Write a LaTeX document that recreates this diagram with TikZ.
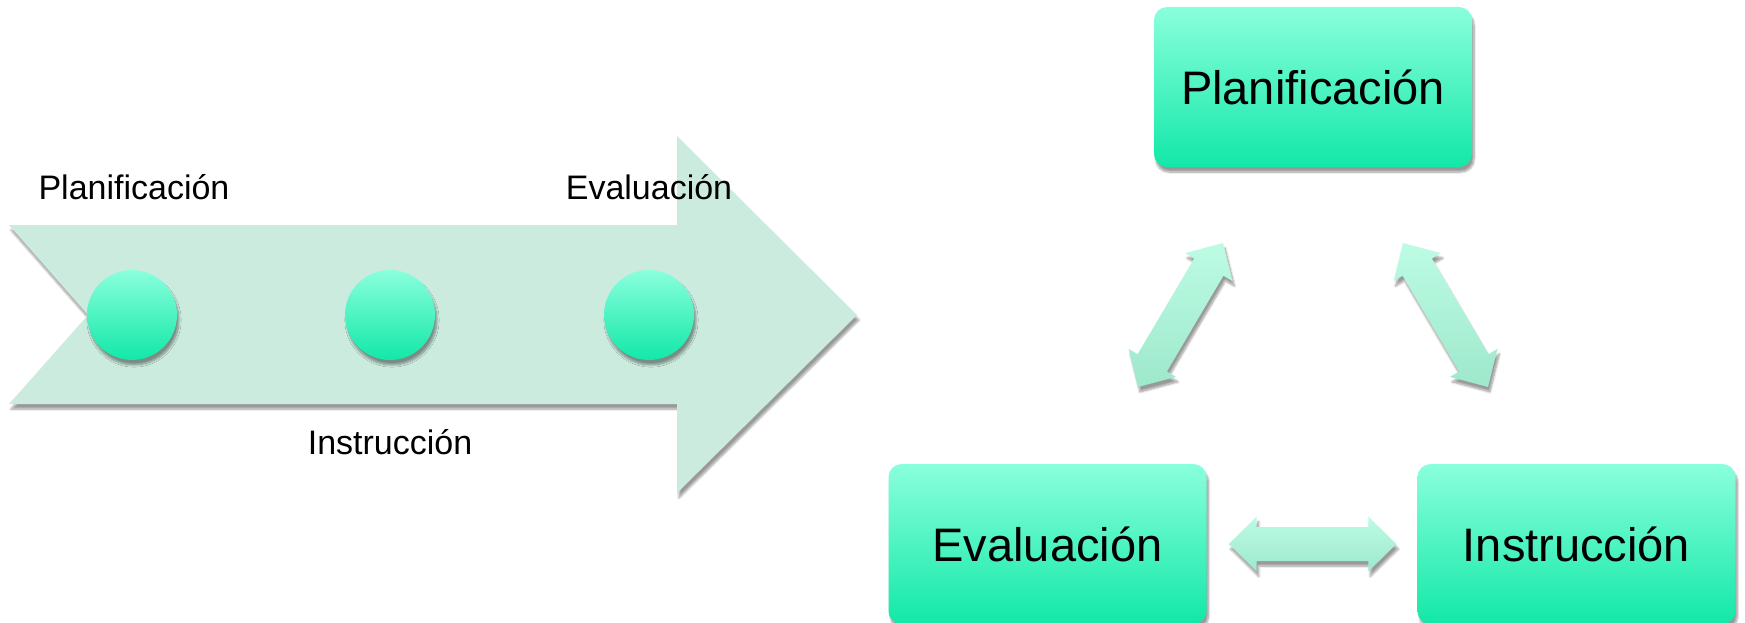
\documentclass[tikz,border=0pt]{standalone}
\usepackage{fontspec}
\setmainfont{Liberation Sans}
\usetikzlibrary{calc,positioning,shadows.blur}
\definecolor{boxtop}{RGB}{138,255,220}
\definecolor{boxbot}{RGB}{18,232,168}
\definecolor{bandfill}{RGB}{204,235,223}
\definecolor{linktop}{RGB}{188,252,228}
\definecolor{linkbot}{RGB}{158,232,204}
\tikzset{mybox/.style={rectangle,rounded corners=13pt,minimum width=318pt,
minimum height=160pt,top color=boxtop,bottom color=boxbot,
font=\fontsize{47}{56}\selectfont,myshadow},
stage/.style={circle,minimum size=90pt,inner sep=0pt,top color=boxtop,
bottom color=boxbot,myshadow},
steplabel/.style={font=\fontsize{34}{40}\selectfont,inner sep=0pt},
linkarrow/.style={top color=linktop,bottom color=linkbot,myshadow},
myshadow/.style={blur shadow={shadow xshift=2pt,shadow yshift=-5pt,
shadow blur steps=8,shadow opacity=40}}}
\newcommand{\Connect}[2]{\path[linkarrow] (#1)
 -- ($(#1)!39.25pt!44.48:(#2)$) -- ($(#1)!32.76pt!31.26:(#2)$)
 -- ($(#2)!32.76pt!-31.26:(#1)$) -- ($(#2)!39.25pt!-44.48:(#1)$)
 -- (#2)
 -- ($(#2)!39.25pt!44.48:(#1)$) -- ($(#2)!32.76pt!31.26:(#1)$)
 -- ($(#1)!32.76pt!-31.26:(#2)$) -- ($(#1)!39.25pt!-44.48:(#2)$)
 -- cycle;
}

\begin{document}
\begin{tikzpicture}[x=1pt,y=-1pt]
    \useasboundingbox (0,0) rectangle (1745,623);
    % timeline
    \path[fill=bandfill,myshadow] (9,225) -- (677,225) -- (677,136) -- (857,315)
        -- (677,493) -- (677,404) -- (9,404) -- (88,315) -- cycle;
    \node[stage] (stage-a) at (132,315) {};
    \node[stage] (stage-b) at (390,315) {};
    \node[stage] (stage-c) at (649,315) {};
    \node[steplabel] (label-a) at (134,187) {Planificación};
    \node[steplabel] (label-b) at (390,442) {Instrucción};
    \node[steplabel] (label-c) at (649,187) {Evaluación};
    % cycle
    \node[mybox] (box-plan) at (1313,87) {Planificación};
    \node[mybox] (box-eval) at (1047.5,544) {Evaluación};
    \node[mybox] (box-inst) at (1576.5,544) {Instrucción};
    \coordinate (plan-west) at (1223,243);
    \coordinate (eval-north) at (1138,387);
    \coordinate (plan-east) at (1403,243);
    \coordinate (inst-north) at (1488,387);
    \coordinate (eval-east) at ($(box-eval.east)+(22,0)$);
    \coordinate (inst-west) at ($(box-inst.west)+(-21,0)$);
    % links
    \Connect{plan-west}{eval-north}
    \Connect{plan-east}{inst-north}
    \Connect{eval-east}{inst-west}
\end{tikzpicture}
\end{document}
